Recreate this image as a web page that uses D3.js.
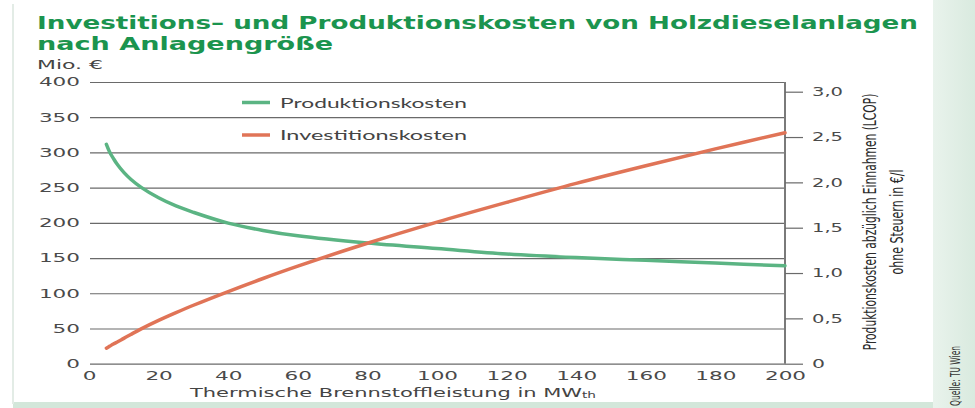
<!DOCTYPE html>
<html>
<head>
<meta charset="utf-8">
<script src="https://cdn.jsdelivr.net/npm/d3@7"></script>
<style>
  body { margin: 0; background: #fff; }
  svg { display: block; }
  text { font-family: "DejaVu Sans", sans-serif; }
</style>
</head>
<body>
<script>
// values
const leistung = [5, 6, 7, 8, 10, 12, 15, 20, 25, 30, 40, 50, 60, 80, 100, 120, 140, 160, 180, 200];
// Produktionskosten in €/l (right axis)
const produktionskosten = [2.42, 2.33, 2.265, 2.205, 2.11, 2.035, 1.945, 1.83, 1.74, 1.67, 1.55, 1.47, 1.41, 1.33, 1.27, 1.21, 1.17, 1.14, 1.11, 1.08];
// Investitionskosten in Mio. € (left axis)
const investitionskosten = [22, 25, 28, 30.5, 36, 41.5, 49.5, 61.5, 72.5, 83, 102.5, 121, 138.5, 171, 201, 229, 256, 281, 305, 328];

const xTicks = [0, 20, 40, 60, 80, 100, 120, 140, 160, 180, 200];
const leftTicks = [0, 50, 100, 150, 200, 250, 300, 350, 400];
const rightTicks = [0, 0.5, 1.0, 1.5, 2.0, 2.5, 3.0];

const titleLines = ['Investitions\u2013 und Produktionskosten von Holzdieselanlagen', 'nach Anlagengr\u00f6\u00dfe'];
const rightTitleLines = ['Produktionskosten abz\u00fcglich Einnahmen (LCOP)', 'ohne Steuern in \u20ac/l'];
const legendItems = [
  { name: 'Produktionskosten', color: '#5bb483' },
  { name: 'Investitionskosten', color: '#e07457' }
];

const width = 975, height = 408;
const svg = d3.select('body').append('svg')
  .attr('width', width)
  .attr('height', height);

// frame decoration: right panel, bottom band, left rule
const grad = svg.append('defs').append('linearGradient')
  .attr('id', 'panel').attr('x1', 0).attr('x2', 1);
grad.append('stop').attr('offset', 0).attr('stop-color', '#e9f3ec');
grad.append('stop').attr('offset', 1).attr('stop-color', '#d9eadf');
svg.append('rect').attr('x', 933).attr('y', 0).attr('width', 42).attr('height', height)
  .attr('fill', 'url(#panel)');
svg.append('rect').attr('x', 13).attr('y', 402).attr('width', 920).attr('height', 6)
  .attr('fill', '#d3e7da');
svg.append('rect').attr('x', 12).attr('y', 4).attr('width', 2).attr('height', 400)
  .attr('fill', '#e3ece6');

const x = d3.scaleLinear().domain([0, 200]).range([89, 785]);
const yLeft = d3.scaleLinear().domain([0, 400]).range([363.7, 82]);
const yRight = d3.scaleLinear().domain([0, 3]).range([363.7, 91.7]);

// title
svg.selectAll('.title')
  .data(titleLines)
  .enter()
  .append('text')
  .attr('class', 'title')
  .attr('x', 37)
  .attr('y', (d, i) => 29 + i * 21)
  .attr('textLength', (d, i) => i === 0 ? 881 : 296)
  .attr('lengthAdjust', 'spacingAndGlyphs')
  .style('font-size', '18px')
  .style('font-weight', 'bold')
  .style('fill', '#1b944e')
  .text((d) => d);

svg.append('text')
  .attr('x', 37).attr('y', 69)
  .attr('textLength', 66).attr('lengthAdjust', 'spacingAndGlyphs')
  .style('font-size', '12px').style('fill', '#444')
  .text('Mio. \u20ac');

const digitWidth = 13.7;

// left axis with gridlines
const leftAxis = svg.append('g')
  .attr('transform', 'translate(90,0)')
  .call(d3.axisLeft(yLeft).tickValues(leftTicks).tickSize(-695).tickPadding(10));
leftAxis.select('.domain').remove();
leftAxis.selectAll('line').attr('stroke', '#6a6a6a').attr('stroke-width', 1.2);
leftAxis.selectAll('text')
  .attr('textLength', function () { return this.textContent.length * digitWidth; })
  .attr('lengthAdjust', 'spacingAndGlyphs')
  .style('font-size', '12px').style('fill', '#4a4a4a').style('font-family', 'DejaVu Sans');

// bottom axis labels
const bottomAxis = svg.append('g')
  .attr('transform', 'translate(0,364)')
  .call(d3.axisBottom(x).tickValues(xTicks).tickSize(0).tickPadding(7));
bottomAxis.select('.domain').remove();
bottomAxis.selectAll('text')
  .attr('textLength', function () { return this.textContent.length * digitWidth; })
  .attr('lengthAdjust', 'spacingAndGlyphs')
  .style('font-size', '12px').style('fill', '#4a4a4a').style('font-family', 'DejaVu Sans');

// right axis
const rightAxis = svg.append('g')
  .attr('transform', 'translate(785,0)')
  .call(d3.axisRight(yRight).tickValues(rightTicks).tickSize(18).tickSizeOuter(0).tickPadding(9)
    .tickFormat((d) => d === 0 ? '0' : d.toFixed(1).replace('.', ',')));
rightAxis.select('.domain').attr('stroke', '#7a7a7a').attr('stroke-width', 2)
  .attr('d', `M0,${yLeft(400)}V${yRight(0)}`);
rightAxis.selectAll('line').attr('stroke', '#6a6a6a').attr('stroke-width', 1.2);
rightAxis.selectAll('text')
  .attr('textLength', function () { return this.textContent.length === 1 ? 13 : 31; })
  .attr('lengthAdjust', 'spacingAndGlyphs')
  .style('font-size', '12px').style('fill', '#4a4a4a').style('font-family', 'DejaVu Sans');

// axis titles
const xTitle = svg.append('text')
  .attr('x', 190).attr('y', 397)
  .style('font-size', '13px').style('fill', '#444');
xTitle.append('tspan')
  .attr('textLength', 392).attr('lengthAdjust', 'spacingAndGlyphs')
  .text('Thermische Brennstoffleistung in MW');
xTitle.append('tspan')
  .attr('dy', 1).style('font-size', '8px')
  .attr('textLength', 14).attr('lengthAdjust', 'spacingAndGlyphs')
  .text('th');

// right title: condensed by a horizontal scale to the measured length
const narrow = '"Liberation Sans Narrow", "DejaVu Sans Condensed", sans-serif';
const rightTitleLength = [257, 105];
svg.selectAll('.rtitle')
  .data(rightTitleLines)
  .enter()
  .append('text')
  .attr('class', 'rtitle')
  .attr('text-anchor', 'middle')
  .style('font-size', '17px').style('fill', '#2a2a2a')
  .style('font-family', narrow)
  .text((d) => d)
  .attr('transform', function (d, i) {
    const k = rightTitleLength[i] / this.getComputedTextLength();
    return `translate(${876 + i * 27},222) rotate(-90) scale(${k},1)`;
  });

svg.append('text')
  .attr('transform', 'translate(960,376) rotate(-90)')
  .attr('text-anchor', 'middle')
  .attr('textLength', 60).attr('lengthAdjust', 'spacingAndGlyphs')
  .style('font-size', '14px').style('fill', '#333')
  .style('font-family', narrow)
  .text('Quelle: TU Wien');

// lines
const prodLine = d3.line()
  .x((d, i) => x(leistung[i]))
  .y((d) => yRight(d))
  .curve(d3.curveCatmullRom.alpha(0.5));
const invLine = d3.line()
  .x((d, i) => x(leistung[i]))
  .y((d) => yLeft(d))
  .curve(d3.curveCatmullRom.alpha(0.5));

svg.append('path')
  .datum(produktionskosten)
  .attr('d', prodLine)
  .attr('fill', 'none')
  .attr('stroke', legendItems[0].color)
  .attr('stroke-width', 3.5)
  .attr('stroke-linecap', 'round');

svg.append('path')
  .datum(investitionskosten)
  .attr('d', invLine)
  .attr('fill', 'none')
  .attr('stroke', legendItems[1].color)
  .attr('stroke-width', 3.5)
  .attr('stroke-linecap', 'round');

// legend
const legend = svg.selectAll('.legend')
  .data(legendItems)
  .enter()
  .append('g')
  .attr('class', 'legend')
  .attr('transform', (d, i) => `translate(242,${102.5 + i * 32.5})`);
legend.append('line')
  .attr('x1', 0).attr('x2', 28)
  .attr('stroke', (d) => d.color)
  .attr('stroke-width', 3.5);
legend.append('text')
  .attr('x', 38).attr('y', 5)
  .attr('textLength', 187).attr('lengthAdjust', 'spacingAndGlyphs')
  .style('font-size', '14px').style('fill', '#444')
  .style('font-family', 'Lato, sans-serif')
  .text((d) => d.name);
</script>
</body>
</html>
